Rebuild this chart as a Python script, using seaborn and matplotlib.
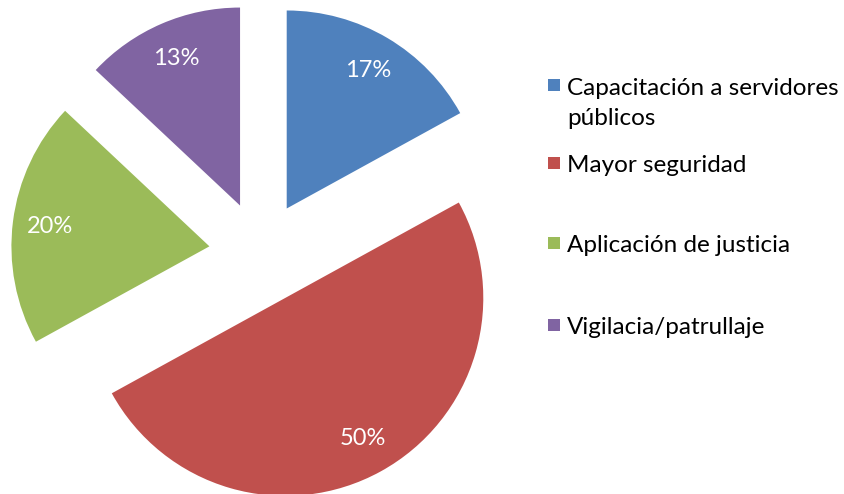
import matplotlib
matplotlib.use('Agg')
import matplotlib.pyplot as plt
import matplotlib.patches as mpatches
import seaborn as sns

# --- Données ---
categorias = ["Capacitación a servidores\npúblicos", "Mayor seguridad",
              "Aplicación de justicia", "Vigilacia/patrullaje"]
porcentajes = [17, 50, 20, 13]
colores = ["#4F81BD", "#C0504D", "#9BBB59", "#8064A2"]

sns.set_theme(style="white")
plt.rcParams['font.family'] = ['Lato', 'DejaVu Sans']

W, H = 845, 494
fig = plt.figure(figsize=(W / 100, H / 100), dpi=100)
# axes couvrant la partie gauche, 198 px par unité de rayon
ax = fig.add_axes([0, 0, 520 / W, 1])

wedges, textos, autotextos = ax.pie(
    porcentajes, colors=colores, startangle=90, counterclock=False,
    explode=[0.26] * 4, autopct="%d%%", pctdistance=0.81,
    wedgeprops=dict(linewidth=0),
    textprops=dict(color="white", fontsize=17))

ax.set_aspect('auto')
ax.set_xlim(-260.5 / 198, (520 - 260.5) / 198)
ax.set_ylim((252.8 - H) / 198, 252.8 / 198)

# légende à la main (style Excel : carré aligné sur la première ligne)
legende_y = [85, 163, 243, 325]  # centre de la première ligne, en px
for cat, col, y in zip(categorias, colores, legende_y):
    fig.patches.append(mpatches.Rectangle(
        (548 / W, 1 - (y + 6) / H), 12 / W, 12 / H,
        transform=fig.transFigure, facecolor=col, edgecolor="none"))
    # va="baseline" s'aligne sur la dernière ligne
    decal = 9 + 31 * cat.count("\n")
    fig.text(567 / W, 1 - (y + decal) / H, cat, va="baseline", ha="left",
             fontsize=17.5, color="black", linespacing=1.55)

plt.savefig("out.png", dpi=100)
plt.close()
